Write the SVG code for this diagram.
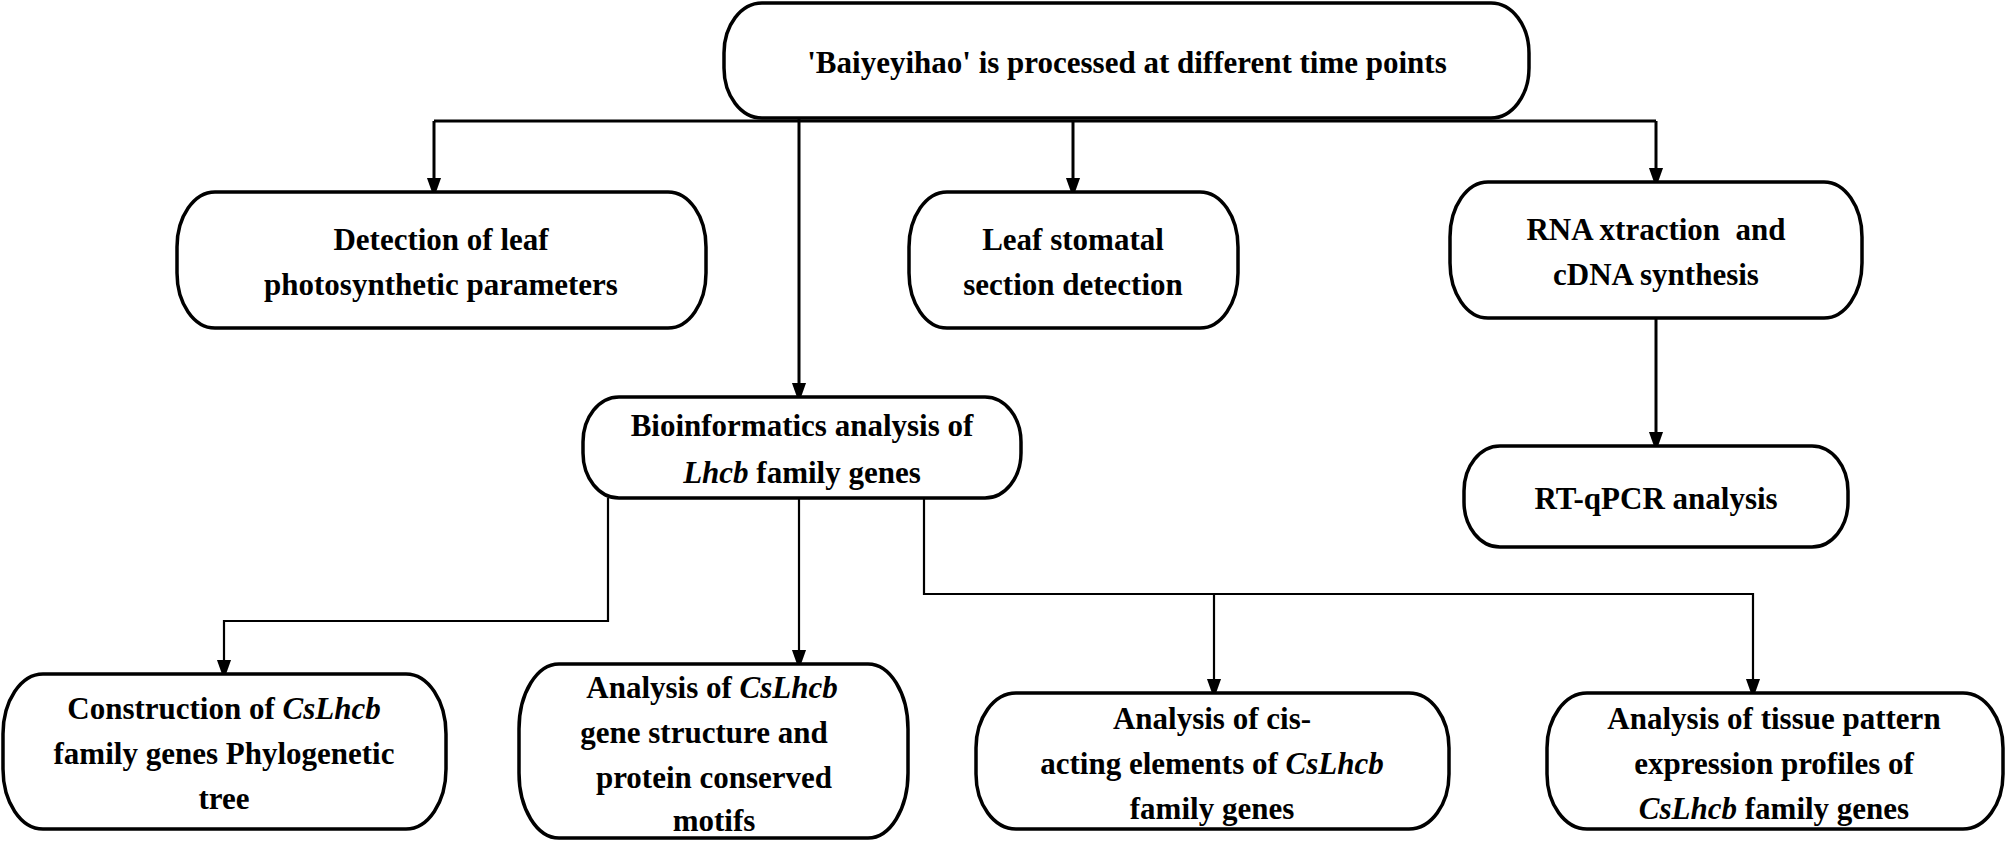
<svg xmlns="http://www.w3.org/2000/svg" width="2008" height="842" viewBox="0 0 2008 842">
<style>
.b{fill:#fff;stroke:#000;stroke-width:3.5}
text{font-family:"Liberation Serif","Times New Roman",serif;font-weight:bold;font-size:31px;text-anchor:middle;fill:#000}
.c{fill:none;stroke:#000;stroke-width:3}
.t{fill:none;stroke:#000;stroke-width:2.2}
</style>
<defs>
<marker id="a" markerUnits="userSpaceOnUse" markerWidth="20" markerHeight="28" refX="20" refY="10" orient="auto" viewBox="0 0 28 20"><path d="M0,0 L28,10 L0,20Z" fill="#000"/></marker>
</defs>
<g id="connectors">
<path class="c" d="M434,121 H1656"/>
<path class="c" d="M434,121 V192" marker-end="url(#a)"/>
<path class="c" d="M799,118 V397" marker-end="url(#a)"/>
<path class="c" d="M1073,121 V192" marker-end="url(#a)"/>
<path class="c" d="M1656,121 V182" marker-end="url(#a)"/>
<path class="c" d="M1656,318 V446" marker-end="url(#a)"/>
<path class="t" d="M608,498 V621 H224 V674" marker-end="url(#a)"/>
<path class="t" d="M799,498 V664" marker-end="url(#a)"/>
<path class="t" d="M924,498 V594 H1753 V693" marker-end="url(#a)"/>
<path class="t" d="M1214,594 V693" marker-end="url(#a)"/>
</g>
<g id="n1"><rect class="b" x="724" y="3" width="805" height="115" rx="38" ry="50"/><text x="1127" y="73" font-size="33">'Baiyeyihao' is processed at different time points</text></g>
<g id="n2"><rect class="b" x="177" y="192" width="529" height="136" rx="38" ry="55"/><text x="441" y="250">Detection of leaf</text><text x="441" y="295">photosynthetic parameters</text></g>
<g id="n3"><rect class="b" x="909" y="192" width="329" height="136" rx="38" ry="55"/><text x="1073" y="250">Leaf stomatal</text><text x="1073" y="295">section detection</text></g>
<g id="n4"><rect class="b" x="1450" y="182" width="412" height="136" rx="38" ry="55"/><text x="1656" y="240" xml:space="preserve">RNA xtraction  and</text><text x="1656" y="285">cDNA synthesis</text></g>
<g id="n5"><rect class="b" x="1464" y="446" width="384" height="101" rx="36" ry="45"/><text x="1656" y="509">RT-qPCR analysis</text></g>
<g id="n6"><rect class="b" x="583" y="397" width="438" height="101" rx="36" ry="45"/><text x="802" y="436">Bioinformatics analysis of</text><text x="802" y="483"><tspan font-style="italic">Lhcb</tspan> family genes</text></g>
<g id="n7"><rect class="b" x="3" y="674" width="443" height="155" rx="40" ry="60"/><text x="224" y="719">Construction of <tspan font-style="italic">CsLhcb</tspan></text><text x="224" y="764">family genes Phylogenetic</text><text x="224" y="809">tree</text></g>
<g id="n8"><rect class="b" x="519" y="664" width="389" height="174" rx="40" ry="65"/><text x="712" y="698">Analysis of <tspan font-style="italic">CsLhcb</tspan></text><text x="704" y="743">gene structure and</text><text x="714" y="788">protein conserved</text><text x="714" y="831">motifs</text></g>
<g id="n9"><rect class="b" x="976" y="693" width="473" height="136" rx="40" ry="55"/><text x="1212" y="729">Analysis of cis-</text><text x="1212" y="774">acting elements of <tspan font-style="italic">CsLhcb</tspan></text><text x="1212" y="819">family genes</text></g>
<g id="n10"><rect class="b" x="1547" y="693" width="456" height="136" rx="40" ry="55"/><text x="1774" y="729">Analysis of tissue pattern</text><text x="1774" y="774">expression profiles of</text><text x="1774" y="819"><tspan font-style="italic">CsLhcb</tspan> family genes</text></g>
</svg>
